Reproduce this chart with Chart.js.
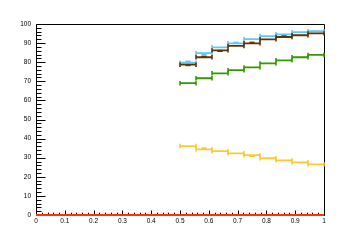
<!DOCTYPE html>
<html><head><meta charset="utf-8">
<script src="https://cdn.jsdelivr.net/npm/chart.js@4.4.1/dist/chart.umd.min.js"></script>
<style>html,body{margin:0;padding:0;background:#fff}#wrap{width:360px;height:240px}</style>
</head><body><div id="wrap"><canvas id="c" width="360" height="240"></canvas></div>
<script>
// ---- data ----
const binEdges = [0.5, 0.5556, 0.6111, 0.6667, 0.7222, 0.7778, 0.8333, 0.8889, 0.9444, 1.0];
const blueValues   = [79.7, 84.7, 87.8, 89.9, 92.1, 93.7, 94.6, 95.7, 96.2];
const brownValues  = [78.7, 82.6, 86.2, 88.5, 89.9, 92.0, 93.2, 94.1, 95.1];
const greenValues  = [69.0, 71.6, 74.2, 75.8, 77.3, 79.4, 81.0, 82.6, 83.8];
const yellowValues = [36.1, 34.4, 33.4, 32.3, 31.3, 29.7, 28.6, 27.6, 26.5];
const blueMarkBins = [0, 1, 3];
const blueMarkValues = [80.3, 84.3, 90.2];
const brownMarkBins = [0, 1, 2, 4, 6];
const brownMarkValues = [78.5, 82.9, 85.9, 90.2, 93.6];
const yellowMarkBins = [1, 4];
const yellowMarkValues = [34.9, 30.9];
const zeroLineX = [0, 1];
const zeroLineY = [0, 0];
const xTickValues = [0, 0.1, 0.2, 0.3, 0.4, 0.5, 0.6, 0.7, 0.8, 0.9, 1];
const xTickLabels = ['0', '0.1', '0.2', '0.3', '0.4', '0.5', '0.6', '0.7', '0.8', '0.9', '1'];
const yTickValues = [0, 10, 20, 30, 40, 50, 60, 70, 80, 90, 100];
const yTickLabels = ['0', '10', '20', '30', '40', '50', '60', '70', '80', '90', '100'];

// ---- styling ----
const COLORS = { blue: '#5ec8fa', brown: '#663300', green: '#339900', yellow: '#ffc933', red: '#ff3300' };
const FONT = { family: "'Liberation Sans', Arial, sans-serif", size: 6.5 };

function stepPoints(values) {
  const pts = [];
  values.forEach((v, i) => {
    pts.push({ x: binEdges[i], y: v });
    pts.push({ x: binEdges[i + 1], y: v });
    pts.push({ x: (binEdges[i] + binEdges[i + 1]) / 2, y: null });
  });
  return pts;
}
function markPoints(bins, vals) {
  return bins.map((b, i) => ({ x: (binEdges[b] + binEdges[b + 1]) / 2, y: vals[i] }));
}
function histDataset(values, color) {
  return {
    data: stepPoints(values), borderColor: color, backgroundColor: color,
    borderWidth: 1.8, spanGaps: false, tension: 0, clip: false,
    pointStyle: 'line', pointRotation: 90, pointRadius: 2.2, pointBorderWidth: 1.6,
    pointBorderColor: color, pointHoverRadius: 2.2
  };
}
function markDataset(bins, vals, color) {
  return {
    data: markPoints(bins, vals), showLine: false, clip: false,
    pointStyle: 'line', pointRadius: 2.6, pointBorderWidth: 2.2,
    borderColor: color, pointBorderColor: color, backgroundColor: color, pointHoverRadius: 2.6
  };
}

const frameTicks = {
  id: 'frameTicks',
  beforeDatasetsDraw(chart) {
    const ctx = chart.ctx;
    const { left, right, top, bottom } = chart.chartArea;
    const xs = chart.scales.x, ys = chart.scales.y;
    ctx.save();
    ctx.strokeStyle = '#000';
    ctx.lineWidth = 1;
    ctx.beginPath();
    ctx.rect(left + 0.5, top + 0.5, right - left, bottom - top);
    ctx.stroke();
    ctx.beginPath();
    for (let k = 0; k <= 50; k++) {
      const v = k / 50;
      const px = Math.round(xs.getPixelForValue(v)) + 0.5;
      const len = (k % 5 === 0) ? 5 : 2.8;
      ctx.moveTo(px, bottom + 0.5);
      ctx.lineTo(px, bottom + 0.5 - len);
    }
    for (let k = 0; k <= 50; k++) {
      const v = k * 2;
      const py = Math.round(ys.getPixelForValue(v)) + 0.5;
      const len = (k % 5 === 0) ? 9 : 5;
      ctx.moveTo(left + 0.5, py);
      ctx.lineTo(left + 0.5 + len, py);
    }
    ctx.stroke();
    ctx.restore();
  }
};

new Chart(document.getElementById('c'), {
  type: 'line',
  data: {
    datasets: [
      histDataset(greenValues, COLORS.green),
      histDataset(brownValues, COLORS.brown),
      histDataset(blueValues, COLORS.blue),
      histDataset(yellowValues, COLORS.yellow),
      markDataset(blueMarkBins, blueMarkValues, COLORS.blue),
      markDataset(brownMarkBins, brownMarkValues, COLORS.brown),
      markDataset(yellowMarkBins, yellowMarkValues, COLORS.yellow),
      {
        data: zeroLineX.map((x, i) => ({ x, y: zeroLineY[i] })),
        borderColor: COLORS.red, borderWidth: 2, pointRadius: 0, clip: false
      }
    ]
  },
  options: {
    responsive: false, animation: false, devicePixelRatio: 1,
    layout: { padding: { top: 24, right: 36, left: 0, bottom: 0 } },
    plugins: { legend: { display: false }, tooltip: { enabled: false } },
    events: [],
    scales: {
      x: {
        type: 'linear', min: 0, max: 1,
        grid: { display: false, drawTicks: false },
        border: { display: false },
        afterBuildTicks: s => { s.ticks = xTickValues.map(v => ({ value: v })); },
        afterFit: s => { s.height = 25; },
        ticks: {
          autoSkip: false, maxRotation: 0, color: '#000', font: FONT, padding: 2,
          callback: (v, i) => xTickLabels[i]
        }
      },
      y: {
        type: 'linear', min: 0, max: 100,
        grid: { display: false, drawTicks: false },
        border: { display: false },
        afterBuildTicks: s => { s.ticks = yTickValues.map(v => ({ value: v })); },
        afterFit: s => { s.width = 36; },
        ticks: {
          autoSkip: false, color: '#000', font: FONT, padding: 5,
          callback: (v, i) => yTickLabels[i]
        }
      }
    }
  },
  plugins: [frameTicks]
});
</script></body></html>
